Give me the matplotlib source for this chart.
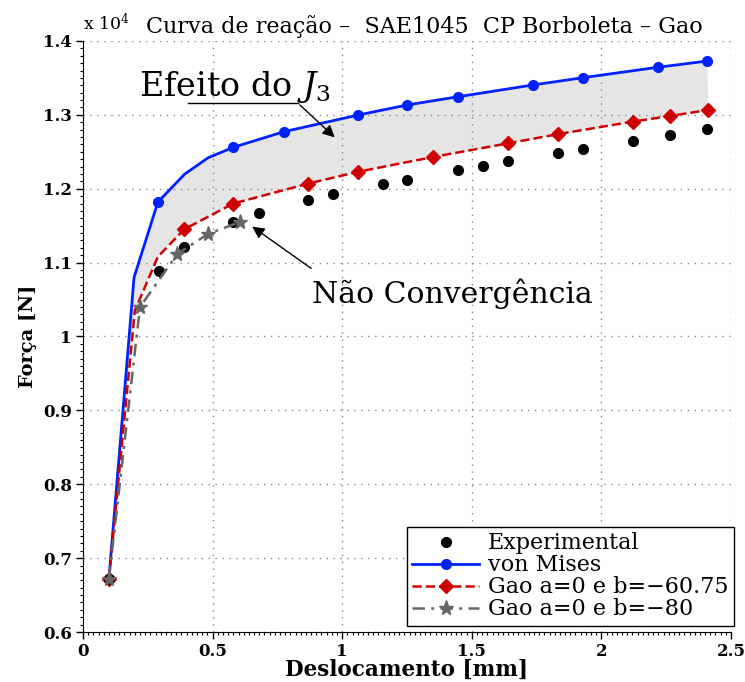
"""Curva de reação SAE1045 CP Borboleta - comparação von Mises x Gao."""

import numpy as np
import matplotlib
matplotlib.use("Agg")
import matplotlib.pyplot as plt
from matplotlib.ticker import MultipleLocator, FormatStrFormatter

plt.rcParams.update({
    "font.family": "DejaVu Serif",
    "mathtext.fontset": "dejavuserif",
    "font.size": 11,
})

# deslocamento [mm] e força [N]
exp_x = [0.10, 0.293, 0.390, 0.580, 0.679, 0.869, 0.966, 1.156, 1.251, 1.448,
         1.544, 1.641, 1.834, 1.928, 2.121, 2.265, 2.409]
exp_y = [6720, 10880, 11216, 11550, 11676, 11848, 11929, 12064, 12118, 12254,
         12308, 12376, 12488, 12538, 12646, 12728, 12813]

vm_x = [0.10, 0.197, 0.289, 0.393, 0.483, 0.580, 0.775, 1.062, 1.251, 1.448,
        1.735, 1.928, 2.217, 2.409]
vm_y = [6720, 10800, 11820, 12200, 12420, 12561, 12772, 12998, 13134, 13246,
        13404, 13503, 13644, 13729]
vm_marks = [0, 2, 5, 6, 7, 8, 9, 10, 11, 12, 13]

gao1_x = [0.10, 0.200, 0.289, 0.390, 0.580, 0.869, 1.062, 1.351, 1.641, 1.834,
          2.123, 2.265, 2.412]
gao1_y = [6720, 10350, 11080, 11450, 11800, 12070, 12230, 12430, 12615, 12740,
          12910, 12985, 13066]
gao1_marks = [0, 3, 4, 5, 6, 7, 8, 9, 10, 11, 12]

gao2_x = [0.10, 0.220, 0.364, 0.483, 0.606]
gao2_y = [6720, 10400, 11117, 11390, 11550]

S = 1e4  # escala do eixo y (x 10^4)

fig = plt.figure(figsize=(7.45, 6.82), dpi=100)
ax = fig.add_axes([0.1114, 0.0733, 0.8698, 0.8666])

ax.fill(np.r_[vm_x, gao1_x[::-1]], np.r_[vm_y, gao1_y[::-1]] / S,
        color="#e5e5e5", lw=0, zorder=1)

ax.plot(exp_x, np.array(exp_y) / S, "o", color="black", ms=7, ls="none",
        label="Experimental", zorder=4)
ax.plot(vm_x, np.array(vm_y) / S, "-o", color="#0022ff", lw=2, ms=7,
        markevery=vm_marks, label="von Mises", zorder=3)
ax.plot(gao1_x, np.array(gao1_y) / S, "--D", color="#d00000", lw=1.8, ms=7,
        markevery=gao1_marks, label="Gao a=0 e b=\u221260.75", zorder=3)
ax.plot(gao2_x, np.array(gao2_y) / S, "*", ls=(0, (5, 2.5, 1.2, 2.5)),
        color="#666666", lw=1.8, ms=11, label="Gao a=0 e b=\u221280", zorder=5)

ax.set_xlim(0, 2.5)
ax.set_ylim(0.6, 1.4)
ax.xaxis.set_major_locator(MultipleLocator(0.5))
ax.yaxis.set_major_locator(MultipleLocator(0.1))
ax.xaxis.set_minor_locator(MultipleLocator(0.02))
ax.yaxis.set_minor_locator(MultipleLocator(0.01))
ax.xaxis.set_major_formatter(FormatStrFormatter("%g"))
ax.yaxis.set_major_formatter(FormatStrFormatter("%g"))
ax.tick_params(which="major", length=5, width=1, labelsize=12, pad=3)
ax.tick_params(which="minor", length=2.5, width=0.8)
for lab in ax.get_xticklabels() + ax.get_yticklabels():
    lab.set_fontweight("bold")
ax.grid(True, which="major", ls=(0, (1, 4)), color="#888888", lw=1)
ax.spines["top"].set_visible(False)
ax.spines["right"].set_visible(False)

ax.set_xlabel("Deslocamento [mm]", fontsize=15.5, fontweight="bold", labelpad=-1)
ax.set_ylabel("Força [N]", fontsize=14, fontweight="bold", labelpad=4)
ax.text(0.0, 1.012, "x 10$^{4}$", transform=ax.transAxes, fontsize=12.5,
        ha="left", va="bottom")
ax.set_title("Curva de reação \u2013  SAE1045  CP Borboleta \u2013 Gao",
             fontsize=16, pad=6, x=0.527)

# anotações
ax.text(0.215, 1.338, "Efeito do $J_3$", fontsize=24, va="center", ha="left")
ax.plot([0.405, 0.829], [1.316, 1.316], color="black", lw=1)
ax.annotate("", xy=(0.979, 1.267), xytext=(0.829, 1.316),
            arrowprops=dict(arrowstyle="-|>", color="black", lw=1,
                            mutation_scale=18))
ax.text(0.885, 1.058, "Não Convergência", fontsize=21.5, va="center", ha="left")
ax.annotate("", xy=(0.644, 1.151), xytext=(0.889, 1.090),
            arrowprops=dict(arrowstyle="-|>", color="black", lw=1,
                            mutation_scale=18))

leg = ax.legend(loc="lower right", bbox_to_anchor=(1.0046, 0.0102), fontsize=16,
                fancybox=False, edgecolor="black", framealpha=1,
                labelspacing=0.0, handlelength=3.0, borderpad=0.25,
                handletextpad=0.4, borderaxespad=0)
leg.get_frame().set_linewidth(1)

fig.savefig("out.png", dpi=100)
